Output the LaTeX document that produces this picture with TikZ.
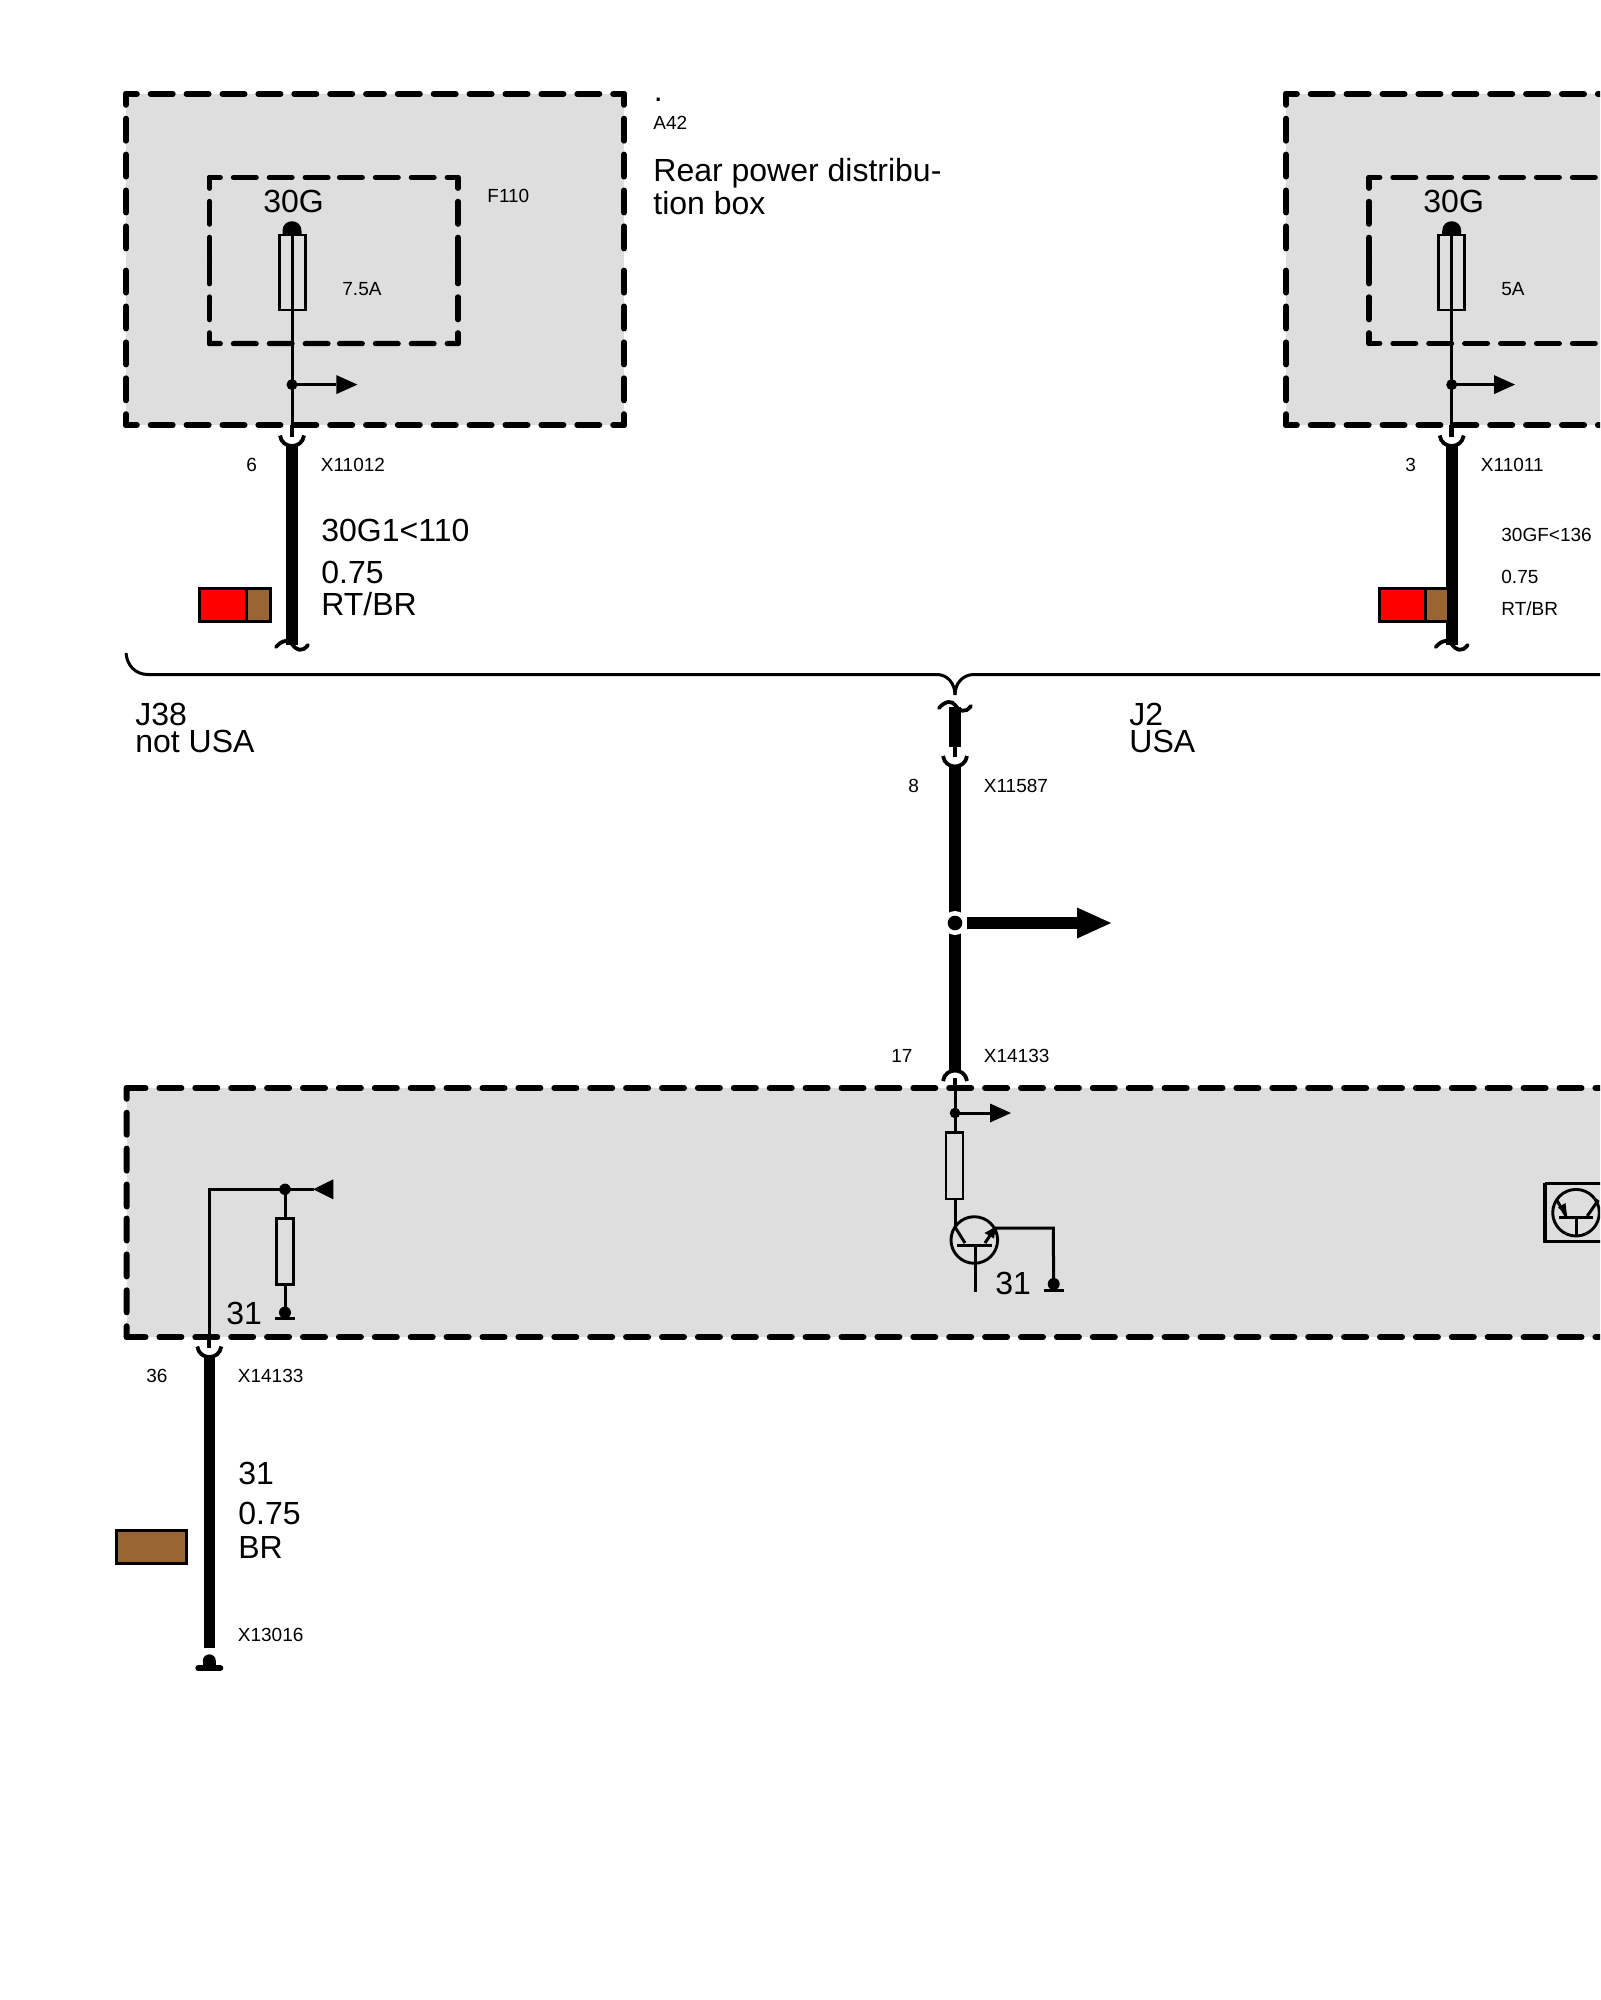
\documentclass[tikz,border=0pt]{standalone}
\usepackage{fontspec}
\setmainfont{Liberation Sans}
\usetikzlibrary{calc}
\definecolor{boxgray}{HTML}{DEDEDE}
\definecolor{wirebrown}{HTML}{996633}
\definecolor{wirered}{HTML}{FF0000}
\tikzset{
  big/.style={inner sep=0pt,anchor=base west,font=\fontsize{16pt}{16pt}\selectfont},
  small/.style={inner sep=0pt,anchor=base west,font=\fontsize{9.5pt}{10pt}\selectfont},
  boxdash/.style={line width=3pt,line cap=round,dash pattern=on 11pt off 6.95pt,dash phase=5.6pt},
  innerdash/.style={line width=2.6pt,line cap=round,dash pattern=on 11.4pt off 6.55pt,dash phase=6pt},
  thin/.style={line width=1.5pt},
  fat/.style={line width=5.8pt},
  stub/.style={line width=2.3pt},
  part/.style={line width=1.45pt},
  swatch/.style={line width=1.5pt,draw=black},
  symb/.style={line width=1.9pt,line cap=round},
  sq/.style={line width=1.9pt},
}
% dashed side, drawn from both corners towards the middle
\newcommand{\dashside}[4][boxdash]{\draw[#1,#4] (#2) -- ($(#2)!.5!(#3)$);\draw[#1,#4] (#3) -- ($(#2)!.5!(#3)$);}
\newcommand{\cupdown}[1]{\draw[sq,shift={(#1)}] (-12,0) .. controls (-10,14) and (10,14) .. (12,0);}
\newcommand{\cupup}[1]{\draw[sq,shift={(#1)}] (-12,0) .. controls (-10,-14) and (10,-14) .. (12,0);}
\newcommand{\wavy}[1]{\draw[symb,shift={(#1)}] (-16,3) .. controls (-9,-5) and (-3,-4) .. (0,0) .. controls (4,6) and (10,9) .. (16,1);}
\newcommand{\dome}[1]{\fill[shift={(#1)}] (-9.5,0) -- (-9.5,-5) .. controls (-9.5,-18) and (9.5,-18) .. (9.5,-5) -- (9.5,0) -- cycle;}
\newcommand{\tipright}[1]{\fill[shift={(#1)}] (0,-9.5) -- (21,0) -- (0,9.5) -- cycle;}
\newcommand{\grnd}[1]{\fill[shift={(#1)}] (0,-6) circle (6);\draw[thin,shift={(#1)}] (-10,0) -- (10,0);}
\begin{document}
\begin{tikzpicture}[x=0.5pt,y=-0.5pt]
\clip (0,0) rectangle (1600,2000);
\fill[white] (0,0) rectangle (1600,2000);
% ---------- grey areas ----------
\fill[boxgray] (126,94) rectangle (624,425);
\fill[boxgray] (1286,94) rectangle (1610,425);
\fill[boxgray] (126.7,1088) rectangle (1610,1337);
% ---------- box corners ----------
\coordinate (a1) at (126,94); \coordinate (a2) at (624,94);
\coordinate (a3) at (624,425); \coordinate (a4) at (126,425);
\coordinate (b1) at (209.5,177.5); \coordinate (b2) at (458,177.5);
\coordinate (b3) at (458,343.6); \coordinate (b4) at (209.5,343.6);
\dashside{a1}{a2}{}\dashside{a2}{a3}{}\dashside{a3}{a4}{}\dashside{a4}{a1}{}
\dashside[innerdash]{b1}{b2}{}\dashside[innerdash]{b2}{b3}{}\dashside[innerdash]{b3}{b4}{}\dashside[innerdash]{b4}{b1}{}
\coordinate (c1) at (1286,94); \coordinate (c1r) at (1620,94);
\coordinate (c4) at (1286,425); \coordinate (c4r) at (1620,425);
\draw[boxdash] (c1) -- (c1r); \draw[boxdash] (c4) -- (c4r); \dashside{c1}{c4}{}
\coordinate (d1) at (1369,177.5); \coordinate (d1r) at (1620,177.5);
\coordinate (d4) at (1369,343.6); \coordinate (d4r) at (1620,343.6);
\draw[innerdash] (d1) -- (d1r); \draw[innerdash] (d4) -- (d4r); \dashside[innerdash]{d1}{d4}{}
\coordinate (e1) at (126.7,1088); \coordinate (e1r) at (1620,1088);
\coordinate (e4) at (126.7,1337); \coordinate (e4r) at (1620,1337);
\draw[boxdash,dash phase=1.6pt] (e1) -- (e1r); \draw[boxdash,dash phase=1.6pt] (e4) -- (e4r); \dashside{e1}{e4}{}
% ---------- left feed ----------
\coordinate (f1top) at (292,236); \coordinate (f1j) at (292,384.6); \coordinate (f1end) at (292,437);
\coordinate (f1st) at (292,425);
\coordinate (f1cup) at (292,435.5); \coordinate (f1fat) at (292,445); \coordinate (f1low) at (292,645);
\coordinate (f1wave) at (292,644); \coordinate (f1arr) at (336.4,384.6);
\draw[part] (279.3,235) rectangle (305.7,310);
\draw[thin] (f1top) -- (f1end);
\draw[stub] (f1st) -- (f1end);
\draw[fat] (f1fat) -- (f1low);
\dome{f1top}\cupdown{f1cup}\wavy{f1wave}
\fill (f1j) circle (5.5);
\draw[thin] (f1j) -- (f1arr); \tipright{f1arr}
% ---------- right feed ----------
\coordinate (g1top) at (1451.7,236); \coordinate (g1j) at (1451.7,384.6); \coordinate (g1end) at (1451.7,437);
\coordinate (g1st) at (1451.7,425);
\coordinate (g1cup) at (1451.7,435.5); \coordinate (g1fat) at (1451.7,445); \coordinate (g1low) at (1451.7,645);
\coordinate (g1wave) at (1451.7,644); \coordinate (g1arr) at (1494,384.6);
\draw[part] (1438.5,235) rectangle (1464.5,310);
\draw[thin] (g1top) -- (g1end);
\draw[stub] (g1st) -- (g1end);
\draw[fat] (g1fat) -- (g1low);
\dome{g1top}\cupdown{g1cup}\wavy{g1wave}
\fill (g1j) circle (5.5);
\draw[thin] (g1j) -- (g1arr); \tipright{g1arr}
% ---------- colour swatches ----------
\draw[swatch,fill=wirered] (199.5,588) rectangle (246.4,621.5);
\draw[swatch,fill=wirebrown] (246.4,588) rectangle (270,621.5);
\draw[swatch,fill=wirered] (1379.5,588) rectangle (1425.7,621.5);
\draw[swatch,fill=wirebrown] (1425.7,588) rectangle (1448,621.5);
\draw[swatch,fill=wirebrown] (116.5,1530) rectangle (186.5,1563);
% ---------- brace ----------
\coordinate (brL) at (126,653); \coordinate (brT) at (955,695); \coordinate (brR) at (1620,674.5);
\draw[thin] (brL) .. controls (127,665) and (135,674.5) .. (148,674.5) -- (937,674.5)
  .. controls (947,674.5) and (955,683) .. (brT);
\draw[thin] (brT) .. controls (955,683) and (963,674.5) .. (974,674.5) -- (brR);
% ---------- centre wire ----------
\coordinate (m1wave) at (955,705); \coordinate (m1a) at (955,707); \coordinate (m1b) at (955,747);
\coordinate (m1c) at (955,757); \coordinate (m1cup) at (955,756); \coordinate (m1d) at (955,765);
\coordinate (m1j) at (955,923); \coordinate (m1e) at (955,1072); \coordinate (m1cap) at (955,1081);
\coordinate (m1f) at (955,1078); \coordinate (m1g) at (955,1113); \coordinate (m1h) at (955,1133);
\coordinate (m1p) at (955,1090);
\coordinate (m1br) at (967,923); \coordinate (m1tip) at (1078,923);
\draw[fat] (m1a) -- (m1b);
\draw[stub] (m1b) -- (m1c);
\wavy{m1wave}\cupdown{m1cup}
\draw[fat] (m1d) -- (m1e);
\cupup{m1cap}
\fill[white] (m1j) circle (12);
\fill (m1j) circle (7.3);
\draw[fat] (m1br) -- (m1tip);
\fill[shift={(m1tip)}] (-1,-15.5) -- (33,0) -- (-1,15.5) -- cycle;
% ---------- transistor branch ----------
\coordinate (t1b) at (990,1113); \coordinate (t1r) at (945.7,1132.7);
\coordinate (t1c) at (955,1199); \coordinate (t1e) at (955,1227);
\draw[stub] (m1f) -- (m1p);
\draw[thin] (m1f) -- (m1h);
\fill (m1g) circle (5.3);
\draw[thin] (m1g) -- (t1b); \tipright{t1b}
\draw[part] (946,1132.7) rectangle (963,1199);
\draw[thin] (t1c) -- (t1e);
\coordinate (t1o) at (974.3,1240);
\draw[part] (t1o) circle (23.3);
\coordinate (t1k) at (965,1243); \coordinate (t1l) at (985,1243); \coordinate (t1n) at (995,1228);
\coordinate (t1w) at (957.3,1245); \coordinate (t1x) at (991.7,1245);
\coordinate (t1y) at (975,1245); \coordinate (t1z) at (975,1291.7);
\coordinate (t1g) at (1053.3,1228); \coordinate (t1gnd) at (1053.7,1290);
\draw[thin] (t1e) -- (t1k);
\draw[thin] (t1l) -- (t1n);
\draw[thin] (t1w) -- (t1x);
\draw[thin] (t1y) -- (t1z);
\fill (996,1226.5) -- (984.5,1233) -- (994,1238.5) -- cycle;
\draw[thin] (t1n) -- (t1g) -- (t1gnd);
\grnd{t1gnd}
% ---------- left ground branch ----------
\coordinate (h1a) at (209,1348); \coordinate (h1b) at (209,1189.3); \coordinate (h1j) at (285,1189.3);
\coordinate (h1st) at (209,1337);
\coordinate (h1arr) at (314,1189.3); \coordinate (h1r) at (285,1218.3); \coordinate (h1s) at (285,1284.3);
\coordinate (h1gnd) at (285,1318.5); \coordinate (h1cup) at (209.3,1346.5);
\coordinate (h1fat) at (209.3,1355); \coordinate (h1low) at (209.3,1648); \coordinate (h1g2) at (209.3,1668.3);
\draw[thin] (h1a) -- (h1b) -- (h1arr);
\draw[stub] (h1st) -- (h1a);
\fill (h1j) circle (5.7);
\fill (313.3,1189.3) -- (333.3,1179.3) -- (333.3,1199.3) -- cycle;
\draw[thin] (h1j) -- (h1r);
\draw[part] (276.5,1218.3) rectangle (293.5,1284.3);
\draw[thin] (h1s) -- (h1gnd);
\grnd{h1gnd}
\cupdown{h1cup}
\draw[fat] (h1fat) -- (h1low);
\fill[shift={(h1g2)}] (0,-7.5) circle (6.5);
\fill[shift={(h1g2)}] (-6.5,-7.5) rectangle (6.5,0);
\draw[line width=3pt,line cap=round,shift={(h1g2)}] (-11,0) -- (11,0);
% ---------- right edge transistor ----------
\coordinate (k1o) at (1576,1212.7);
\draw[line width=1.7pt] (1545,1183.3) -- (1620,1183.3);
\draw[line width=1.7pt] (1545,1241.7) -- (1620,1241.7);
\draw[line width=1.7pt] (1545,1182.5) -- (1545,1242.5);
\draw[part] (k1o) circle (23.3);
\coordinate (k1a) at (1559.3,1217.3); \coordinate (k1b) at (1592.7,1217.3);
\coordinate (k1c) at (1576,1217.3); \coordinate (k1d) at (1576,1236);
\coordinate (k1e) at (1556.7,1200); \coordinate (k1f) at (1566,1216);
\coordinate (k1h) at (1587.3,1216); \coordinate (k1i) at (1598.3,1200);
\draw[thin] (k1a) -- (k1b); \draw[thin] (k1c) -- (k1d);
\draw[thin] (k1e) -- (k1f); \draw[thin] (k1h) -- (k1i);
\fill (1567,1216) -- (1558,1207.5) -- (1565.5,1203) -- cycle;
% ---------- labels ----------
\node[big] (tg1) at (263,213) {30G};
\node[small] (ta1) at (342,296) {7.5A};
\node[small] (tf) at (487,203) {F110};
\node[big] (tdot) at (653.5,102) {.};
\node[small] (ta42) at (653,130) {A42};
\node[big] (tr1) at (653,182) {Rear power distribu-};
\node[big] (tr2) at (653,215) {tion box};
\node[small] (t6) at (246,472) {6};
\node[small] (tx1) at (320.5,472) {X11012};
\node[big] (tw1) at (321,541) {30G1<110};
\node[big] (tw2) at (321,583) {0.75};
\node[big] (tw3) at (321,615) {RT/BR};
\node[big] (tg2) at (1423,213) {30G};
\node[small] (ta2) at (1501,296) {5A};
\node[small] (t3) at (1405,472) {3};
\node[small] (tx2) at (1480.5,472) {X11011};
\node[small] (tv1) at (1501,541) {30GF<136};
\node[small] (tv2) at (1501,583.5) {0.75};
\node[small] (tv3) at (1501,615) {RT/BR};
\node[big] (tj1) at (135,725) {J38};
\node[big] (tj2) at (135,752) {not USA};
\node[big] (tj3) at (1129,725) {J2};
\node[big] (tj4) at (1129,752) {USA};
\node[small] (t8) at (908,792) {8};
\node[small] (tx3) at (983.5,792) {X11587};
\node[small] (t17) at (891,1062) {17};
\node[small] (tx4) at (983.5,1062) {X14133};
\node[big] (t31a) at (995,1294) {31};
\node[big] (t31b) at (226,1324) {31};
\node[small] (t36) at (146,1382.5) {36};
\node[small] (tx5) at (237.5,1382.5) {X14133};
\node[big] (tw4) at (238,1484) {31};
\node[big] (tw5) at (238,1524.5) {0.75};
\node[big] (tw6) at (238,1558) {BR};
\node[small] (tx6) at (237.5,1641) {X13016};
\end{tikzpicture}
\end{document}
